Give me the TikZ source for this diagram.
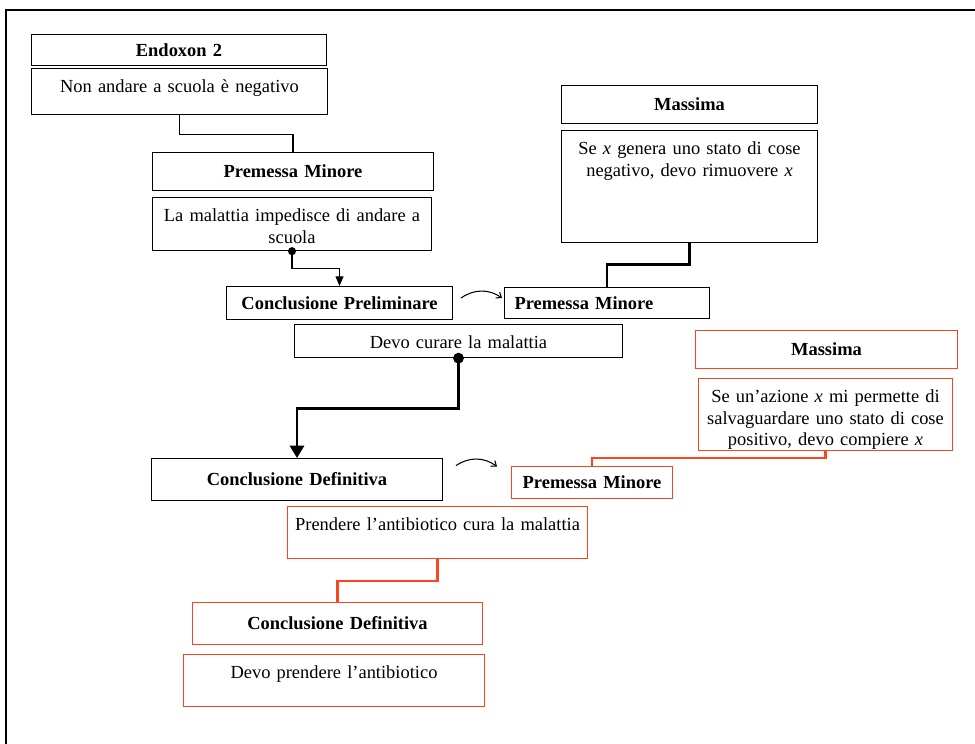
\documentclass[tikz,border=0pt]{standalone}
\usepackage{fontspec}
\setmainfont{Liberation Serif}
\usetikzlibrary{arrows.meta}
\definecolor{arancio}{RGB}{250,70,30}

\begin{document}
\begin{tikzpicture}[x=0.02cm, y=-0.02cm,
    font=\fontsize{10.5}{12.4}\selectfont,
    testa/.style={draw, anchor=north west, inner xsep=0pt, inner ysep=0pt, align=center,
        line width=0.6pt, font=\fontsize{10.5}{12.4}\selectfont\bfseries},
    corpo/.style={draw, anchor=north west, inner xsep=0pt, inner ysep=2.5pt, align=center,
        line width=0.6pt, text height=11pt},
    rosso/.style={draw=arancio},
    curva/.style={-{Straight Barb[length=2.5pt, width=4pt]}, line width=0.6pt}
]
    \useasboundingbox (0,0) rectangle (975,744);

    % Cornice esterna
    \draw[line width=1.1pt] (6,744) -- (6,10) -- (975,10);

    % Colonna di sinistra (nero)
    \node[testa, text width=5.9cm, minimum height=0.62cm] (endoxon) at (31,34) {Endoxon 2};
    \node[corpo, text width=5.92cm, text depth=0.36cm] (nonandare) at (31,68) {Non andare a scuola è negativo};
    \node[testa, text width=5.62cm, minimum height=0.76cm] (premessa1) at (152,152) {Premessa Minore};
    \node[corpo, text width=5.58cm, text depth=0.50cm] (malattia) at (152,197) {La malattia impedisce di andare a\\ scuola};
    \node[testa, text width=4.52cm, minimum height=0.66cm] (preliminare) at (226,286) {Conclusione Preliminare};
    \node[corpo, text width=6.56cm, text depth=0.10cm] (curare) at (294,324) {Devo curare la malattia};
    \node[testa, text width=5.82cm, minimum height=0.84cm] (definitiva1) at (151,458) {Conclusione Definitiva};

    % Massima (nero)
    \node[testa, text width=5.12cm, minimum height=0.76cm] (massima1) at (561,85) {Massima};
    \node[corpo, text width=5.12cm, text depth=1.68cm] (genera) at (561,130) {Se \textit{x} genera uno stato di cose\\ negativo, devo rimuovere \textit{x}};
    \node[testa, text width=4.1cm, minimum height=0.62cm, align=left] (premessa2) at (504,287) {\hspace*{0.2cm}Premessa Minore};

    % Secondo passo (rosso)
    \node[testa, rosso, text width=5.24cm, minimum height=0.76cm] (massima2) at (695,330) {Massima};
    \node[corpo, rosso, text width=5.08cm, text depth=0.88cm] (azione) at (698,378) {Se un’azione \textit{x} mi permette di\\ salvaguardare uno stato di cose\\ positivo, devo compiere \textit{x}};
    \node[testa, rosso, text width=3.22cm, minimum height=0.64cm] (premessa3) at (511,466) {Premessa Minore};
    \node[corpo, rosso, text width=6.0cm, text depth=0.48cm] (prendere) at (287,506) {Prendere l’antibiotico cura la malattia};
    \node[testa, rosso, text width=5.8cm, minimum height=0.84cm] (definitiva2) at (192,602) {Conclusione Definitiva};
    \node[corpo, rosso, text width=6.02cm, text depth=0.48cm] (prendo) at (183,654) {Devo prendere l’antibiotico};

    % Collegamenti
    \draw[line width=0.6pt] (nonandare.south) -- ++(0,19) -| (premessa1.north);
    \draw[line width=0.6pt, -{Triangle[length=5.5pt, width=4.5pt]}] (malattia.south) -- ++(0,17) -| (preliminare.north);
    \fill (malattia.south) circle (2.3pt);
    \draw[line width=1.6pt] (genera.south) -- ++(0,21) -| (premessa2.north);
    \draw[line width=1.6pt, -{Triangle[length=7pt, width=8pt]}] (curare.south) -- ++(0,50) -| (definitiva1.north);
    \fill (curare.south) circle (3.1pt);
    \draw[rosso, line width=1.2pt] (azione.south) -- ++(0,7) -| (premessa3.north);
    \draw[rosso, line width=1.2pt] (prendere.south) -- ++(0,22) -| (definitiva2.north);

    % Frecce curve
    \draw[curva] ([shift={(8,-5)}]preliminare.east) to[bend left=35] ([shift={(-2,-5)}]premessa2.west);
    \draw[curva] ([shift={(13,-14)}]definitiva1.east) to[bend left=35] ([shift={(-14,-16)}]premessa3.west);
\end{tikzpicture}
\end{document}
